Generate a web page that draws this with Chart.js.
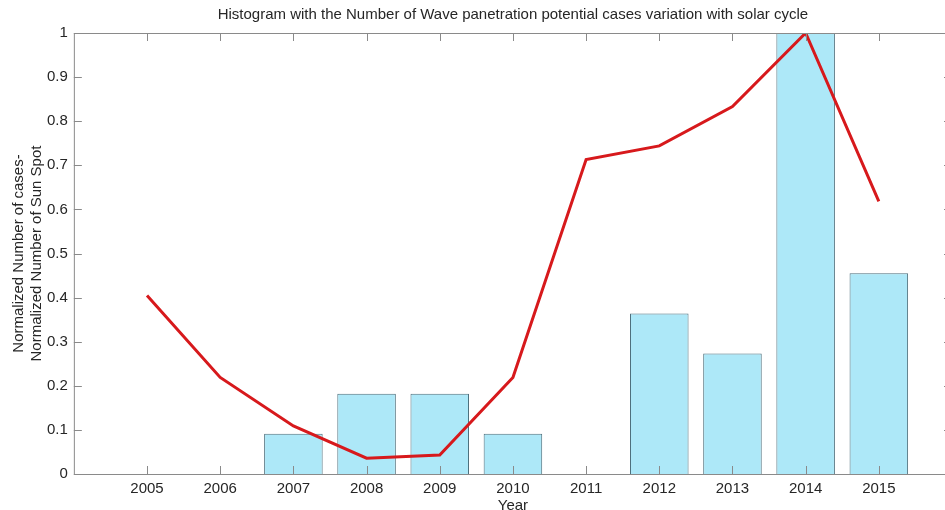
<!DOCTYPE html>
<html>
<head>
<meta charset="utf-8">
<script src="https://cdn.jsdelivr.net/npm/chart.js@4.4.1/dist/chart.umd.min.js"></script>
<style>
  html, body { margin: 0; padding: 0; background: #fff; overflow: hidden; }
  canvas { display: block; }
</style>
</head>
<body>
<!-- a bit wider than the window: the right side of the plot box is cut off, as in the original -->
<canvas id="histChart" width="953" height="510"></canvas>
<script>
// years on the x axis
const years = [2005, 2006, 2007, 2008, 2009, 2010, 2011, 2012, 2013, 2014, 2015];
// normalized number of wave penetration cases (bars)
const normCases = [0, 0, 0.091, 0.182, 0.182, 0.091, 0, 0.364, 0.273, 1.0, 0.455];
// normalized sunspot number (red line)
const normSunSpot = [0.405, 0.219, 0.109, 0.036, 0.043, 0.219, 0.713, 0.744, 0.833, 1.0, 0.618];
const yTicks = [0, 0.1, 0.2, 0.3, 0.4, 0.5, 0.6, 0.7, 0.8, 0.9, 1];

const axisGrey = '#8a8a8a';
const textColor = '#262626';
const fontFamily = '"Liberation Sans", Arial, sans-serif';

// matlab style ticks, pointing into the plot box on all four sides
const inwardTicks = {
    id: 'inwardTicks',
    afterDatasetsDraw(chart) {
        const {ctx, chartArea, scales} = chart;
        const len = 8;
        ctx.save();
        ctx.strokeStyle = axisGrey;
        ctx.lineWidth = 1;
        ctx.beginPath();
        scales.x.ticks.forEach(t => {
            let px = Math.round(scales.x.getPixelForValue(t.value)) + 0.5;
            ctx.moveTo(px, chartArea.bottom);
            ctx.lineTo(px, chartArea.bottom - len);
            ctx.moveTo(px, chartArea.top);
            ctx.lineTo(px, chartArea.top + len);
        });
        scales.y.ticks.forEach(t => {
            let py = Math.round(scales.y.getPixelForValue(t.value)) + 0.5;
            ctx.moveTo(chartArea.left, py);
            ctx.lineTo(chartArea.left + len, py);
            ctx.moveTo(chartArea.right, py);
            ctx.lineTo(chartArea.right - len, py);
        });
        ctx.stroke();
        // box
        ctx.strokeRect(chartArea.left + 0.5, chartArea.top + 0.5,
            chartArea.right - chartArea.left, chartArea.bottom - chartArea.top);
        ctx.restore();
    }
};

const ctx = document.getElementById('histChart').getContext('2d');
window.chart = new Chart(ctx, {
    data: {
        datasets: [{
            type: 'line',
            label: 'Sun spot',
            data: years.map((yr, i) => ({x: yr, y: normSunSpot[i]})),
            borderColor: '#d7191c',
            borderWidth: 3,
            pointRadius: 0,
            tension: 0,
            fill: false,
            order: 0
        }, {
            type: 'bar',
            label: 'Cases',
            data: years.map((yr, i) => ({x: yr, y: normCases[i]})).filter(p => p.y > 0),
            backgroundColor: '#ade8f8',
            borderColor: '#4d6f7c',
            borderWidth: 1,
            barPercentage: 0.8,
            categoryPercentage: 1.0,
            order: 1
        }]
    },
    options: {
        responsive: false,
        animation: false,
        layout: { padding: { top: 2, right: 1, left: 0, bottom: -3 } },
        scales: {
            x: {
                type: 'linear',
                min: 2004,
                max: 2016,
                offset: false,
                afterBuildTicks: scale => {
                    scale.ticks = years.map(v => ({value: v}));
                },
                ticks: {
                    color: textColor,
                    font: { family: fontFamily, size: 15, lineHeight: 1.0 },
                    padding: 7,
                    maxRotation: 0,
                    callback: v => String(v)
                },
                grid: { display: false, drawTicks: false, offset: false },
                border: { display: false },
                title: {
                    display: true,
                    text: 'Year',
                    color: textColor,
                    font: { family: fontFamily, size: 15, lineHeight: 1.0 },
                    padding: { top: -5, bottom: 0 }
                }
            },
            y: {
                min: 0,
                max: 1,
                afterBuildTicks: scale => {
                    scale.ticks = yTicks.map(v => ({value: v}));
                },
                ticks: {
                    color: textColor,
                    font: { family: fontFamily, size: 15 },
                    padding: 6,
                    callback: v => String(v)
                },
                grid: { display: false, drawTicks: false },
                border: { display: false },
                title: {
                    display: true,
                    text: ['Normalized Number of cases-', 'Normalized Number of Sun Spot'],
                    color: textColor,
                    font: { family: fontFamily, size: 15, lineHeight: 1.2 },
                    padding: { top: 10, bottom: -5 }
                }
            }
        },
        plugins: {
            legend: { display: false },
            tooltip: { enabled: false },
            title: {
                display: true,
                fullSize: false,
                text: 'Histogram with the Number of Wave panetration potential cases variation with solar cycle',
                color: textColor,
                font: { family: fontFamily, size: 15, weight: 'normal' },
                padding: { top: 4, bottom: 9 }
            }
        }
    },
    plugins: [inwardTicks]
});
</script>
</body>
</html>
